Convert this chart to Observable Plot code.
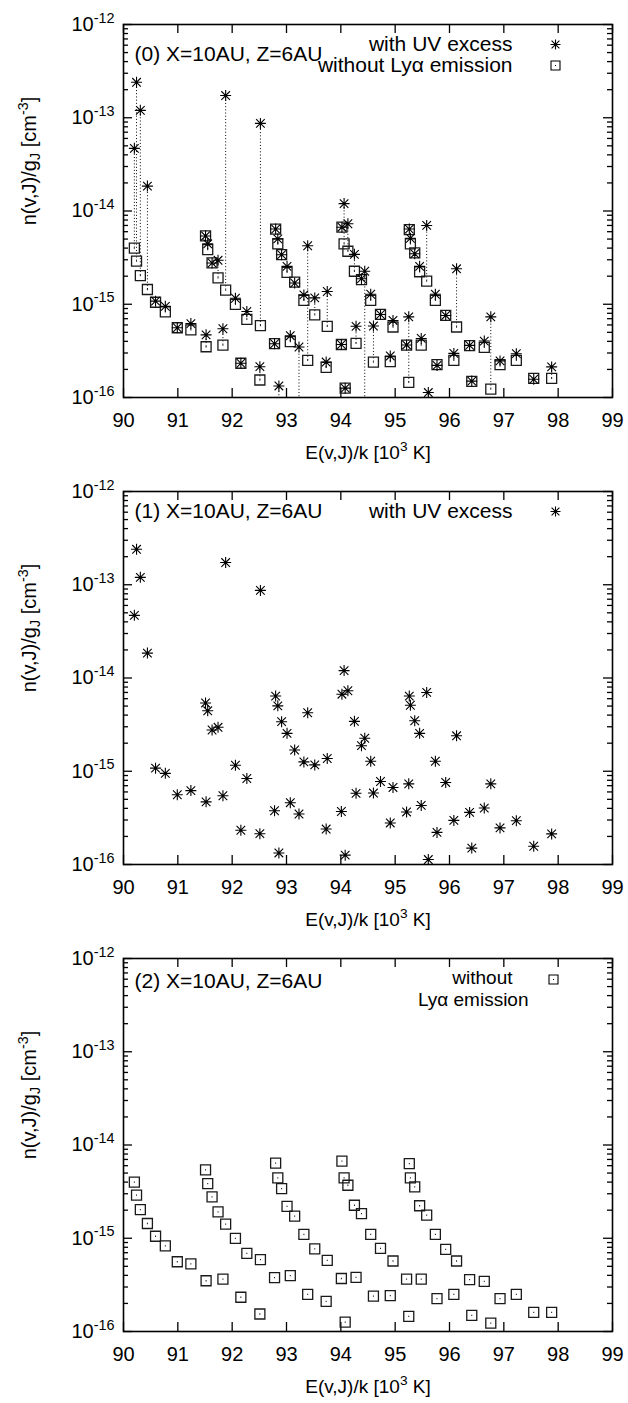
<!DOCTYPE html>
<html><head><meta charset="utf-8">
<script src="https://cdn.jsdelivr.net/npm/d3@7"></script>
<script src="https://cdn.jsdelivr.net/npm/@observablehq/plot@0.6"></script>
<style>
body{margin:0;background:#fff;}
#chart svg{display:block;}
</style></head><body><div id="chart"></div>
<script>
// Level energies E(v,J)/k in 10^3 K
const energy = [90.20, 90.24, 90.31, 90.44, 90.59, 90.77, 90.99, 91.24, 91.51, 91.52,
  91.55, 91.63, 91.74, 91.83, 91.88, 92.06, 92.16, 92.27, 92.51, 92.52,
  92.78, 92.80, 92.84, 92.86, 92.91, 93.01, 93.07, 93.15, 93.23, 93.32,
  93.39, 93.52, 93.73, 93.75, 94.01, 94.02, 94.06, 94.08, 94.13, 94.25,
  94.28, 94.38, 94.44, 94.55, 94.60, 94.73, 94.91, 94.96, 95.21, 95.26,
  95.25, 95.28, 95.36, 95.45, 95.48, 95.58, 95.61, 95.74, 95.77, 95.93,
  96.08, 96.13, 96.37, 96.41, 96.64, 96.76, 96.93, 97.23, 97.55, 97.88];
// n(v,J)/gJ with UV excess
const withUV = [4.7e-14, 2.4e-13, 1.2e-13, 1.85e-14, 1.08e-15, 9.5e-16, 5.6e-16, 6.2e-16, 5.4e-15, 4.7e-16,
  4.45e-15, 2.77e-15, 2.96e-15, 5.46e-16, 1.73e-13, 1.16e-15, 2.33e-16, 8.36e-16, 2.14e-16, 8.7e-14,
  3.77e-16, 6.4e-15, 5.03e-15, 1.33e-16, 3.4e-15, 2.55e-15, 4.6e-16, 1.69e-15, 3.48e-16, 1.26e-15,
  4.24e-15, 1.17e-15, 2.4e-16, 1.37e-15, 3.7e-16, 6.7e-15, 1.2e-14, 1.26e-16, 7.3e-15, 3.43e-15,
  5.8e-16, 1.88e-15, 2.26e-15, 1.28e-15, 5.84e-16, 7.76e-16, 2.79e-16, 6.7e-16, 3.66e-16, 6.4e-15,
  7.33e-16, 5.1e-15, 3.48e-15, 2.55e-15, 4.3e-16, 7.0e-15, 1.13e-16, 1.28e-15, 2.21e-16, 7.58e-16,
  2.97e-16, 2.4e-15, 3.62e-16, 1.5e-16, 4.03e-16, 7.33e-16, 2.47e-16, 2.95e-16, 1.57e-16, 2.13e-16];
// n(v,J)/gJ without Ly-alpha emission
const withoutLya = [4.0e-15, 2.9e-15, 2.03e-15, 1.44e-15, 1.05e-15, 8.3e-16, 5.6e-16, 5.3e-16, 5.4e-15, 3.5e-16,
  3.86e-15, 2.78e-15, 1.92e-15, 3.65e-16, 1.42e-15, 9.95e-16, 2.33e-16, 6.9e-16, 1.54e-16, 5.9e-16,
  3.78e-16, 6.4e-15, 4.45e-15, 6e-17, 3.41e-15, 2.2e-15, 3.97e-16, 1.73e-15, 5e-17, 1.1e-15,
  2.5e-16, 7.7e-16, 2.1e-16, 5.8e-16, 3.7e-16, 6.7e-15, 4.45e-15, 1.26e-16, 3.7e-15, 2.26e-15,
  3.8e-16, 1.84e-15, 5e-17, 1.1e-15, 2.4e-16, 7.8e-16, 2.43e-16, 5.7e-16, 3.65e-16, 6.3e-15,
  1.45e-16, 4.45e-15, 3.56e-15, 2.23e-15, 3.65e-16, 1.77e-15, 4e-17, 1.1e-15, 2.25e-16, 7.6e-16,
  2.5e-16, 5.7e-16, 3.6e-16, 1.49e-16, 3.45e-16, 1.23e-16, 2.25e-16, 2.5e-16, 1.6e-16, 1.6e-16];

const xTicks = [90, 91, 92, 93, 94, 95, 96, 97, 98, 99];
const yMajor = [1e-16, 1e-15, 1e-14, 1e-13, 1e-12];
const yMinor = [];
for (const dec of [1e-16, 1e-15, 1e-14, 1e-13]) for (const m of [2,3,4,5,6,7,8,9]) yMinor.push(m * dec);
const panelLabels = ["(0) X=10AU, Z=6AU", "(1) X=10AU, Z=6AU", "(2) X=10AU, Z=6AU"];

const FONT = '"Liberation Sans", Arial, Helvetica, sans-serif';
const W = 628, H = 467;
const M = {top: 24, right: 16, bottom: 70, left: 123};
const PW = W - M.left - M.right;
const PH = H - M.top - M.bottom;
const FS = 20;

const levels = energy.map((E, i) => ({
  E, uv: withUV[i], no: withoutLya[i],
  lo: Math.min(withUV[i], withoutLya[i]), hi: Math.max(withUV[i], withoutLya[i])
}));

const symStar = {draw(ctx, size) {
  const r = Math.sqrt(size / Math.PI), d = r * 0.78;
  ctx.moveTo(-r, 0); ctx.lineTo(r, 0);
  ctx.moveTo(0, -r); ctx.lineTo(0, r);
  ctx.moveTo(-d, -d); ctx.lineTo(d, d);
  ctx.moveTo(-d, d); ctx.lineTo(d, -d);
}};
const symBox = {draw(ctx, size) {
  const r = Math.sqrt(size / Math.PI);
  ctx.moveTo(-r, -r); ctx.lineTo(r, -r); ctx.lineTo(r, r); ctx.lineTo(-r, r); ctx.closePath();
  ctx.moveTo(-0.5, 0); ctx.lineTo(0.5, 0);
}};

function frameMarks() {
  return [
    Plot.tickX(xTicks, {x: d => d, insetTop: PH - 9, stroke: "black", strokeWidth: 1.3}),
    Plot.tickX(xTicks, {x: d => d, insetBottom: PH - 9, stroke: "black", strokeWidth: 1.3}),
    Plot.tickY(yMajor, {y: d => d, insetRight: PW - 9, stroke: "black", strokeWidth: 1.3}),
    Plot.tickY(yMajor, {y: d => d, insetLeft: PW - 9, stroke: "black", strokeWidth: 1.3}),
    Plot.tickY(yMinor, {y: d => d, insetRight: PW - 5, stroke: "black", strokeWidth: 1.3}),
    Plot.tickY(yMinor, {y: d => d, insetLeft: PW - 5, stroke: "black", strokeWidth: 1.3}),
    Plot.frame({stroke: "black", strokeWidth: 1.6}),
    Plot.axisX({ticks: xTicks, tickSize: 0, tickPadding: 15, label: null, fontSize: FS}),
    Plot.axisY({ticks: yMajor, tickSize: 0, tickPadding: 9, label: null, fontSize: FS,
      tickFormat: d => "10^" + Math.round(Math.log10(d))}),
    Plot.text(["E(v,J)/k [10^3 K]"], {frameAnchor: "bottom", lineAnchor: "middle", dy: 55, fontSize: 19,
      text: d => d}),
    Plot.text(["n(v,J)/g_J [cm^-3]"], {frameAnchor: "left", lineAnchor: "middle", textAnchor: "middle", rotate: -90,
      dx: -94, dy: -50, fontSize: 20, text: d => d})
  ];
}

const starDots = () => Plot.dot(levels, {x: "E", y: "uv", symbol: symStar, r: 5.5, stroke: "black",
  strokeWidth: 1.1, filter: d => d.uv >= 1e-16});
const boxDots = () => Plot.dot(levels, {x: "E", y: "no", symbol: symBox, r: 5, stroke: "#1a1a1a",
  strokeWidth: 1.3, fill: "none", filter: d => d.no >= 1e-16});

function legendText(str, dx, dy, fs = 21) {
  return Plot.text([str], {frameAnchor: "top-right", textAnchor: "end", lineAnchor: "middle",
    dx, dy, fontSize: fs, text: d => d});
}
function legendSym(sym, r, dx, dy) {
  return Plot.dot([0], {frameAnchor: "top-right", dx, dy, symbol: sym, r, stroke: "black", strokeWidth: 1.1});
}
function panelLabel(i, dy) {
  return Plot.text([panelLabels[i]], {frameAnchor: "top-left", textAnchor: "start", lineAnchor: "middle",
    dx: 11, dy, fontSize: 21, text: d => d});
}

function makePlot(marks) {
  return Plot.plot({
    width: W, height: H,
    marginTop: M.top, marginRight: M.right, marginBottom: M.bottom, marginLeft: M.left,
    style: {fontFamily: FONT, fontSize: FS + "px", color: "black", background: "white"},
    x: {domain: [90, 99]},
    y: {type: "log", domain: [1e-16, 1e-12]},
    marks: [...frameMarks(), ...marks]
  });
}

const panels = [
  makePlot([
    Plot.ruleX(levels, {x: "E", y1: "lo", y2: "hi", stroke: "black", strokeWidth: 1, strokeDasharray: "1,2.2", clip: true}),
    boxDots(), starDots(),
    panelLabel(0, 30),
    legendText("with UV excess", -100, 20), legendSym(symStar, 5, -57, 20),
    legendText("without Lyα emission", -100, 41), legendSym(symBox, 4.5, -57, 41)
  ]),
  makePlot([
    starDots(),
    panelLabel(1, 20),
    legendText("with UV excess", -100, 20), legendSym(symStar, 5, -57, 20)
  ]),
  makePlot([
    boxDots(),
    panelLabel(2, 23),
    legendText("without", -100, 19, 19), legendText("Lyα emission", -84, 41, 19), legendSym(symBox, 4.5, -59, 21)
  ])
];

const NS = "http://www.w3.org/2000/svg";
function richify(t, parts, fs) {
  t.textContent = "";
  let shift = 0;
  for (const [s, kind] of parts) {
    const ts = document.createElementNS(NS, "tspan");
    const target = kind === "sup" ? -0.42 * fs : kind === "sub" ? 0.22 * fs : 0;
    if (target - shift !== 0) ts.setAttribute("dy", target - shift);
    shift = target;
    if (kind) ts.setAttribute("font-size", (0.72 * fs).toFixed(1));
    ts.textContent = s;
    t.appendChild(ts);
  }
}

const chart = document.getElementById("chart");
for (const svg of panels) {
  svg.querySelectorAll('g[aria-label="y-axis tick label"] text').forEach(t => {
    const [b, e] = t.textContent.split("^");
    richify(t, [[b, null], [e, "sup"]], FS);
  });
  svg.querySelectorAll("text").forEach(t => {
    if (t.textContent === "E(v,J)/k [10^3 K]")
      richify(t, [["E(v,J)/k [10", null], ["3", "sup"], [" K]", null]], 19);
    else if (t.textContent === "n(v,J)/g_J [cm^-3]")
      richify(t, [["n(v,J)/g", null], ["J", "sub"], [" [cm", null], ["-3", "sup"], ["]", null]], 20);
  });
  chart.appendChild(svg);
}
</script></body></html>
